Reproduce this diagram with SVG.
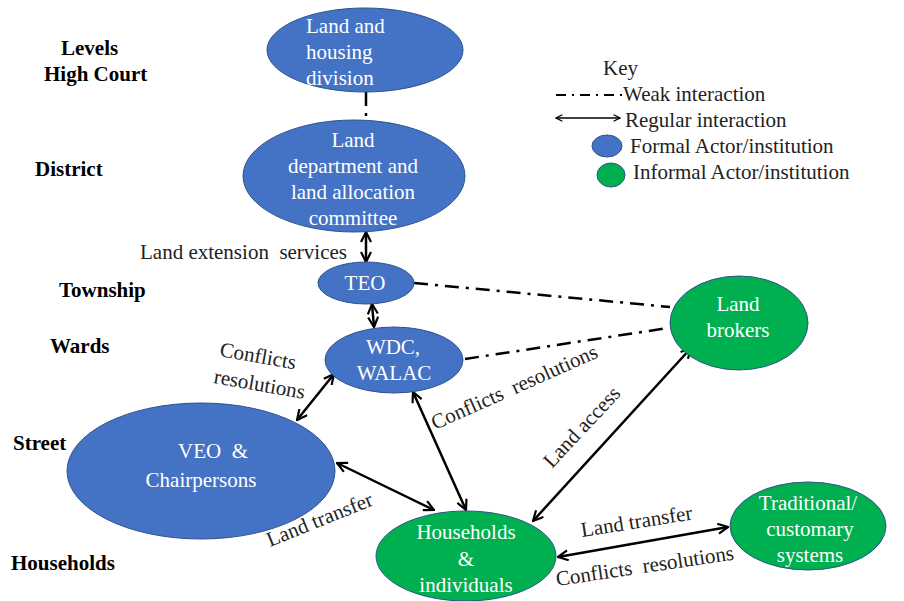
<svg xmlns="http://www.w3.org/2000/svg" width="904" height="601" viewBox="0 0 904 601">
  <defs>
    <marker id="arr" viewBox="0 0 12 12" refX="11" refY="6" markerWidth="12" markerHeight="12" markerUnits="userSpaceOnUse" orient="auto-start-reverse">
      <path d="M1,1 L11,6 L1,11" fill="none" stroke="#000" stroke-width="2.2"/>
    </marker>
    <marker id="arrS" viewBox="0 0 10 10" refX="9" refY="5" markerWidth="8" markerHeight="8" markerUnits="userSpaceOnUse" orient="auto-start-reverse">
      <path d="M1,1 L9,5 L1,9" fill="none" stroke="#000" stroke-width="1.6"/>
    </marker>
  </defs>
  <style>
    text { font-family: 'Liberation Serif', 'DejaVu Serif', serif; font-size: 21px; }
    .formal { fill: #4472C4; stroke: #2F528F; stroke-width: 1; }
    .informal { fill: #00B050; stroke: #2F528F; stroke-width: 1; }
    .nt { fill: #fff; text-anchor: middle; }
    .lvl { font-weight: bold; fill: #000; }
    .lbl { fill: #222; }
    .reg { stroke: #000; stroke-width: 2.5; fill: none; marker-start: url(#arr); marker-end: url(#arr); }
    .weak { stroke: #000; stroke-width: 2.5; fill: none; stroke-dasharray: 14 7 3 7; }
  </style>

  <rect width="904" height="601" fill="#fff"/>

  <!-- level labels -->
  <g id="levels">
    <text class="lvl" x="61" y="55">Levels</text>
    <text class="lvl" x="44" y="81">High Court</text>
    <text class="lvl" x="35" y="176">District</text>
    <text class="lvl" x="59" y="297">Township</text>
    <text class="lvl" x="50" y="353">Wards</text>
    <text class="lvl" x="13" y="450">Street</text>
    <text class="lvl" x="11" y="570">Households</text>
  </g>

  <!-- connectors -->
  <g id="connectors">
    <line class="weak" x1="366" y1="92" x2="366" y2="120"/>
    <line class="reg" x1="366" y1="232" x2="366" y2="262"/>
    <line class="reg" x1="372" y1="304" x2="374" y2="327"/>
    <line class="weak" x1="414" y1="283" x2="670" y2="307"/>
    <line class="weak" x1="465" y1="359" x2="668" y2="328"/>
    <line class="reg" x1="334" y1="374" x2="297" y2="420"/>
    <line class="reg" x1="413" y1="392" x2="466" y2="510"/>
    <line class="reg" x1="337" y1="463" x2="434" y2="510"/>
    <line class="reg" x1="533" y1="521" x2="691" y2="348"/>
    <line class="reg" x1="558" y1="557" x2="728" y2="527"/>
  </g>

  <!-- connector labels -->
  <g id="connector-labels">
    <text class="lbl" x="140" y="259">Land extension&#160; services</text>
    <text class="lbl" transform="translate(219,356) rotate(10)">Conflicts</text>
    <text class="lbl" transform="translate(213,383) rotate(10)">resolutions</text>
    <text class="lbl" transform="translate(435,430) rotate(-24)">Conflicts&#160; resolutions</text>
    <text class="lbl" transform="translate(552,469) rotate(-47)">Land access</text>
    <text class="lbl" transform="translate(270,547) rotate(-22)">Land transfer</text>
    <text class="lbl" transform="translate(582,537) rotate(-9)">Land transfer</text>
    <text class="lbl" transform="translate(557,586) rotate(-8.5)">Conflicts&#160; resolutions</text>
  </g>

  <!-- nodes -->
  <g id="land-housing-division">
    <ellipse class="formal" cx="365" cy="50" rx="98" ry="42"/>
    <text class="nt" style="text-anchor:start" x="306" y="33">Land and</text>
    <text class="nt" style="text-anchor:start" x="306" y="59">housing</text>
    <text class="nt" style="text-anchor:start" x="306" y="85">division</text>
  </g>
  <g id="land-department">
    <ellipse class="formal" cx="354" cy="176" rx="111" ry="56"/>
    <text class="nt" x="353" y="147">Land</text>
    <text class="nt" x="353" y="173">department and</text>
    <text class="nt" x="353" y="199">land allocation</text>
    <text class="nt" x="353" y="225">committee</text>
  </g>
  <g id="teo">
    <ellipse class="formal" cx="366" cy="283" rx="48" ry="21"/>
    <text class="nt" x="365" y="290">TEO</text>
  </g>
  <g id="wdc-walac">
    <ellipse class="formal" cx="394" cy="360" rx="69" ry="33"/>
    <text class="nt" x="393" y="354">WDC,</text>
    <text class="nt" x="394" y="380">WALAC</text>
  </g>
  <g id="veo-chairpersons">
    <ellipse class="formal" cx="201" cy="471" rx="134" ry="68"/>
    <text class="nt" style="text-anchor:start" x="178" y="458">VEO&#160; &amp;</text>
    <text class="nt" x="201" y="487">Chairpersons</text>
  </g>
  <g id="households-individuals">
    <ellipse class="informal" cx="466" cy="556" rx="90" ry="45"/>
    <text class="nt" x="466" y="539">Households</text>
    <text class="nt" x="466" y="566">&amp;</text>
    <text class="nt" x="466" y="592">individuals</text>
  </g>
  <g id="land-brokers">
    <ellipse class="informal" cx="739" cy="323" rx="69" ry="47"/>
    <text class="nt" x="738" y="311">Land</text>
    <text class="nt" x="738" y="337">brokers</text>
  </g>
  <g id="traditional-systems">
    <ellipse class="informal" cx="808" cy="526" rx="78" ry="44"/>
    <text class="nt" x="808" y="510">Traditional/</text>
    <text class="nt" x="810" y="536">customary</text>
    <text class="nt" x="810" y="562">systems</text>
  </g>

  <!-- key -->
  <g id="key">
    <text class="lbl" x="603" y="75">Key</text>
    <line x1="556" y1="95" x2="622" y2="95" stroke="#000" stroke-width="2" stroke-dasharray="10 6 2 6"/>
    <text class="lbl" x="623" y="101">Weak interaction</text>
    <line x1="556" y1="118" x2="620" y2="118" stroke="#000" stroke-width="1.3" marker-start="url(#arrS)" marker-end="url(#arrS)"/>
    <text class="lbl" x="625" y="127">Regular interaction</text>
    <ellipse class="formal" cx="607" cy="146" rx="15" ry="11"/>
    <text class="lbl" x="630" y="153">Formal Actor/institution</text>
    <ellipse class="informal" cx="611" cy="175" rx="14" ry="12"/>
    <text class="lbl" x="633" y="179">Informal Actor/institution</text>
  </g>
</svg>
